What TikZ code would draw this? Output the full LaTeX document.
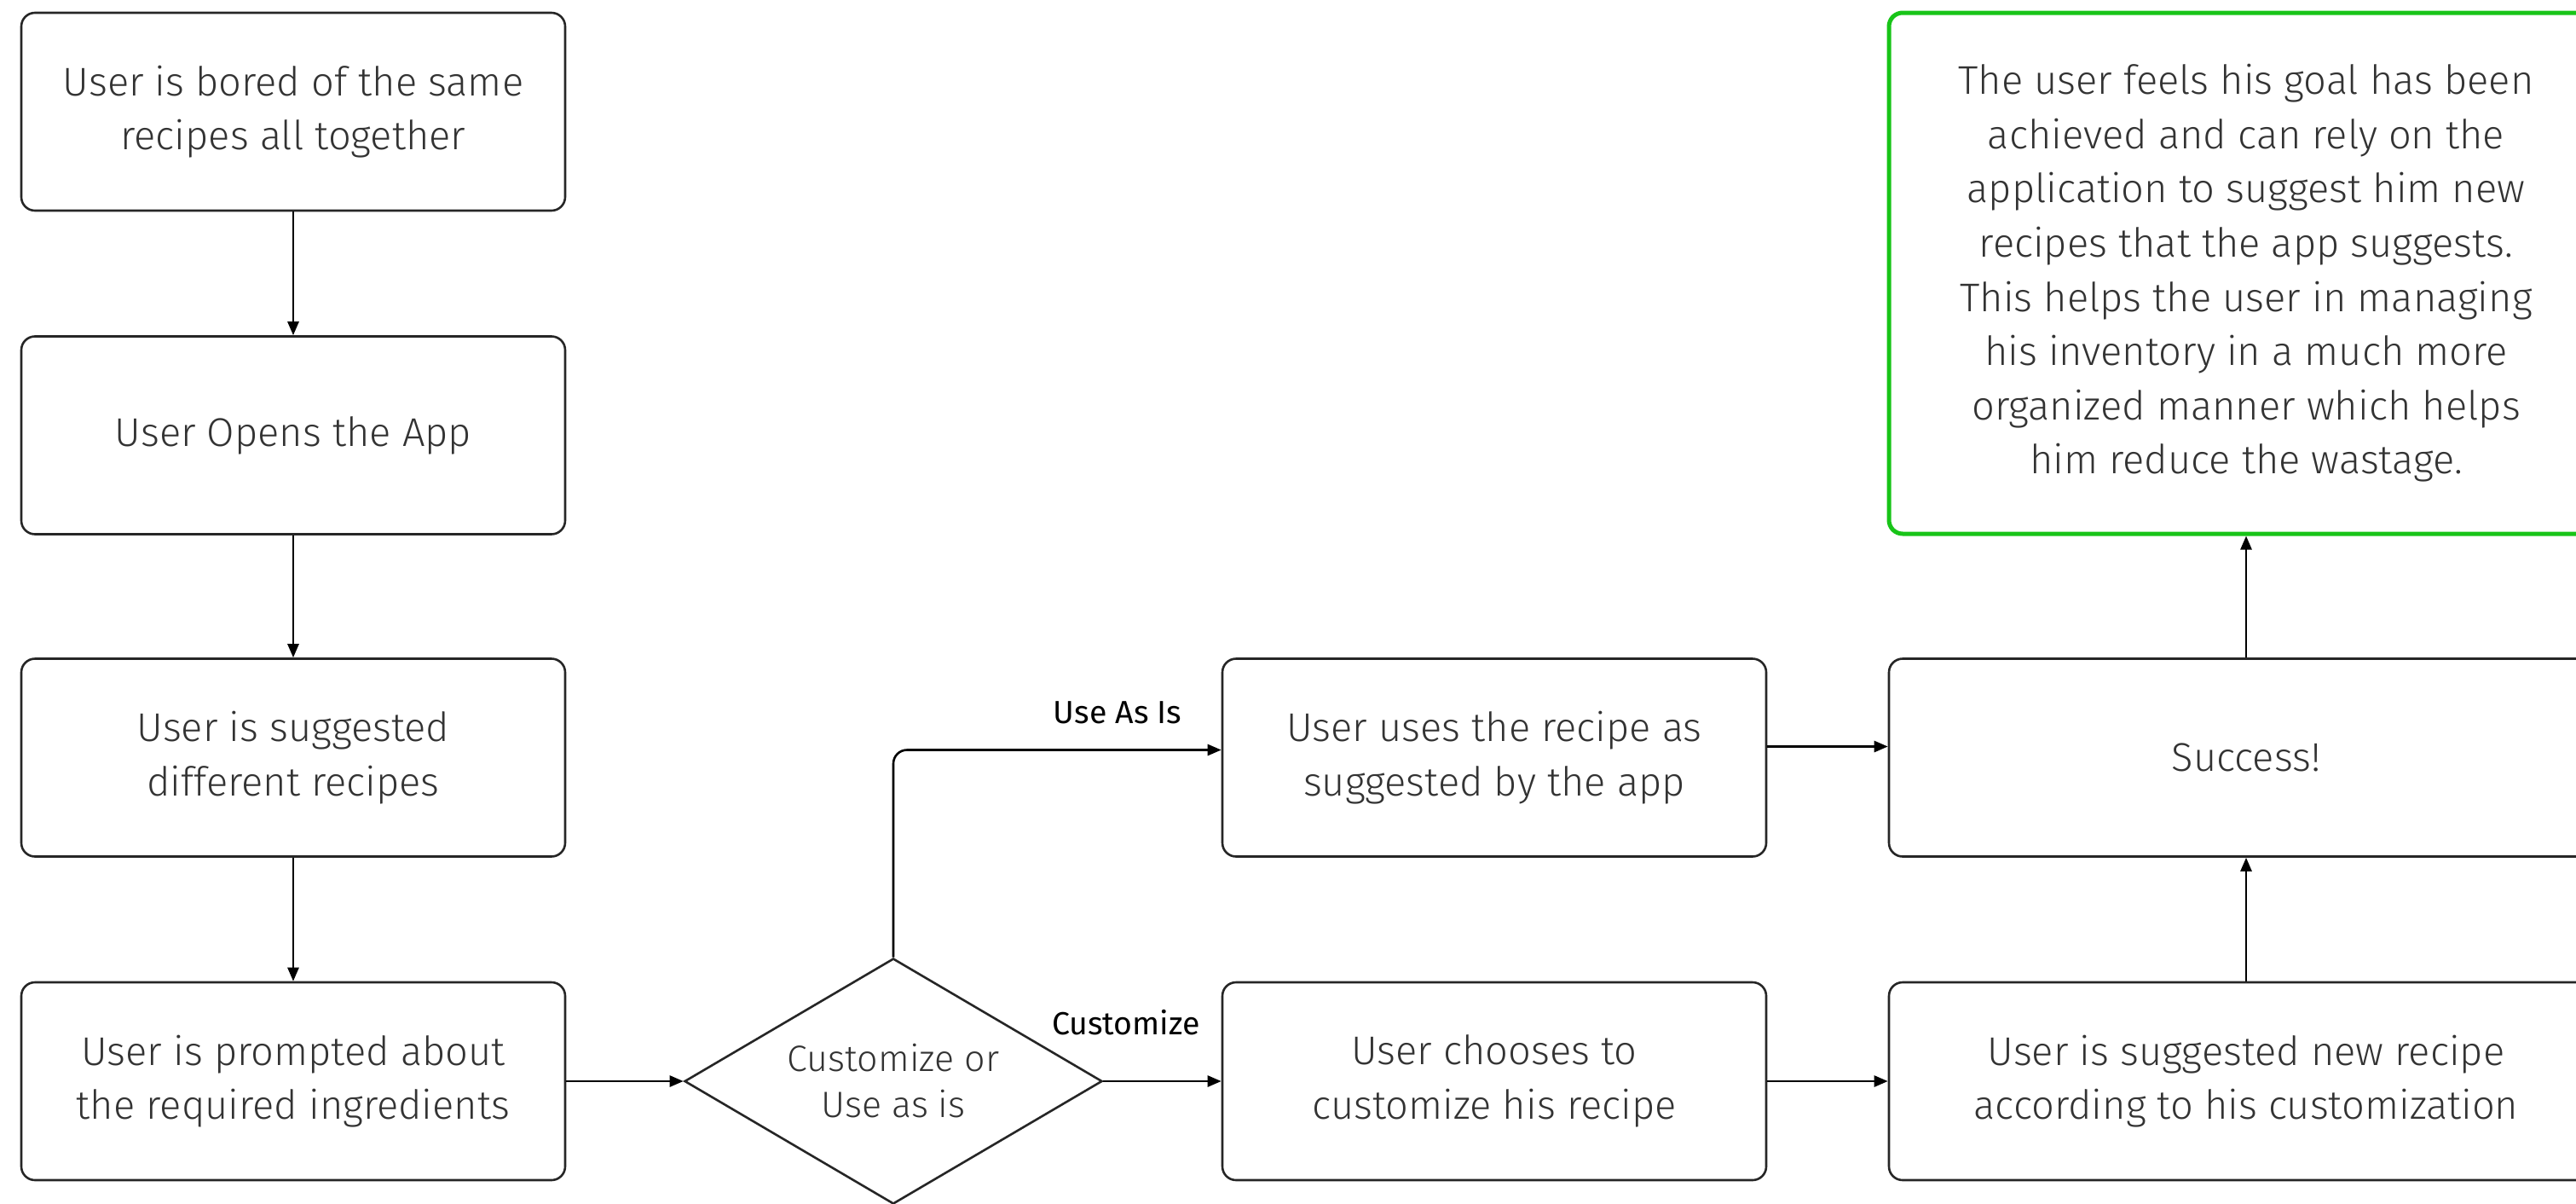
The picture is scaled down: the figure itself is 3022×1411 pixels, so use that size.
\documentclass[tikz,border=0pt]{standalone}
\usepackage{fontspec}
\setmainfont{Fira Sans}[UprightFont={* Light}]
\newfontfamily\labelfont{Fira Sans}
\usetikzlibrary{shapes.geometric,arrows.meta}
\definecolor{txt}{RGB}{51,51,51}
\definecolor{goalgreen}{RGB}{24,196,24}
\tikzset{
  stepbox/.style={draw=black!85, line width=2.6pt, rounded corners=16pt, minimum width=638pt, minimum height=232pt, align=center, text=txt, font=\fontsize{47}{63.6}\selectfont, inner sep=0pt},
  widebox/.style={stepbox, minimum width=838pt},
  goalbox/.style={widebox, draw=goalgreen, line width=5pt, minimum height=611pt},
  decide/.style={diamond, draw=black!85, line width=2.6pt, minimum width=490pt, minimum height=288pt, aspect=1.7, inner sep=0pt, align=center, text=txt, font=\fontsize{43}{54}\selectfont},
  conn/.style={line width=2.6pt, draw=black, -{Triangle[length=16pt,width=13pt]}},
  edgelabel/.style={font=\labelfont\fontsize{37.5}{44}\selectfont, text=black, inner sep=0pt}
}
\begin{document}
\begin{tikzpicture}[x=1pt,y=-1pt]
\useasboundingbox (0,0) rectangle (3022,1411);
\node[stepbox] (bored) at (344,131) {User is bored of the same\\recipes all together};
\node[stepbox] (opens) at (344,510.5) {User Opens the App};
\node[stepbox] (sugg) at (344,888.5) {User is suggested\\different recipes};
\node[stepbox] (prompt) at (344,1268) {User is prompted about\\the required ingredients};
\node[decide] (dec) at (1048,1268) {Customize or\\Use as is};
\node[stepbox] (asis) at (1753,888.5) {User uses the recipe as\\suggested by the app};
\node[stepbox] (cust) at (1753,1268) {User chooses to\\customize his recipe};
\node[widebox] (succ) at (2635,888.5) {Success!};
\node[widebox] (newrec) at (2635,1268) {User is suggested new recipe\\according to his customization};
\node[goalbox] (goal) at (2635,320.5) {The user feels his goal has been\\achieved and can rely on the\\application to suggest him new\\recipes that the app suggests.\\This helps the user in managing\\his inventory in a much more\\organized manner which helps\\him reduce the wastage.};
\draw[conn] (bored) -- (opens);
\draw[conn] (opens) -- (sugg);
\draw[conn] (sugg) -- (prompt);
\draw[conn] (prompt) -- (dec);
\draw[conn, rounded corners=16pt] (dec.north) |- ([yshift=9pt]asis.west);
\draw[conn] (dec) -- (cust);
\draw[conn] ([yshift=13pt]asis.east) -- ([yshift=13pt]succ.west);
\draw[conn] (cust) -- (newrec);
\draw[conn] (newrec) -- (succ);
\draw[conn] (succ) -- (goal);
\node[edgelabel] (lasis) at (1311,836) {Use As Is};
\node[edgelabel] (lcust) at (1321,1199) {Customize};
\end{tikzpicture}
\end{document}
